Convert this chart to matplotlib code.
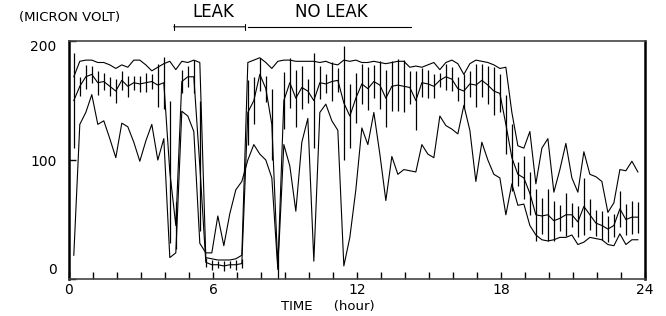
import numpy as np
import matplotlib.pyplot as plt
from matplotlib.transforms import ScaledTranslation

# samples every 15 minutes
hours = np.arange(95) * 0.25 + 0.2

upper = [170, 183, 184, 184, 182, 182, 180, 177, 180, 178, 184, 184, 180, 175, 178, 181, 183, 176, 183, 182,
         184, 182, 18, 17, 16, 16, 16, 17, 20,
         182, 184, 186, 182, 177, 183, 184, 184,
         183, 183, 183, 183, 182, 183, 181, 180, 184, 183, 184, 182, 182, 183, 182, 181, 182, 183, 183,
         178, 179, 178, 180, 182, 176, 182, 184, 181, 172, 181, 184, 183, 182, 180, 177, 178, 140, 112,
         110, 124, 80, 110, 118, 73, 92, 114, 85, 73, 107, 88, 86, 82, 56, 64, 92, 91, 99, 90]

middle = [150, 162, 170, 172, 165, 166, 162, 158, 167, 162, 165, 164, 165, 166, 163, 165, 90, 45, 166, 170,
          170, 95, 14, 12, 12, 11, 12, 12, 13,
          140, 150, 172, 160, 130, 10, 150, 165,
          152, 161, 158, 150, 165, 164, 166, 167, 148, 137, 152, 164, 160, 166, 163, 152, 162, 163, 162,
          161, 150, 165, 164, 162, 167, 170, 168, 160, 158, 164, 163, 167, 163, 158, 156, 130, 102, 88,
          85, 72, 54, 53, 54, 49, 51, 54, 54, 48, 61, 54, 47, 45, 42, 45, 59, 50, 52, 52]

spread = [40, 8, 10, 7, 10, 7, 8, 10, 8, 9, 6, 7, 8, 6, 18, 22, 60, 20, 10, 9,
          14, 55, 4, 4, 3, 4, 3, 4, 4,
          27, 20, 14, 11, 30, 10, 24, 21,
          24, 18, 10, 40, 14, 8, 16, 10, 48, 27, 21, 17, 18, 14, 20, 24, 21, 22, 22,
          14, 25, 12, 12, 10, 6, 11, 10, 10, 14, 11, 18, 14, 16, 20, 16, 25, 28, 10,
          18, 18, 22, 15, 22, 17, 11, 18, 10, 13, 24, 13, 11, 12, 11, 10, 15, 13, 14, 13]

lower = [20, 130, 140, 155, 130, 133, 118, 102, 131, 128, 115, 99, 116, 130, 100, 118, 18, 22, 141, 137,
         124, 30, 22, 22, 53, 28, 55, 75, 82,
         100, 113, 105, 100, 85, 8, 113, 95,
         57, 115, 135, 15, 140, 147, 133, 125, 11, 35, 75, 127, 113, 140, 105, 66, 103, 88, 92,
         91, 90, 113, 105, 102, 137, 129, 126, 122, 146, 125, 82, 115, 100, 88, 85, 54, 80, 62,
         63, 45, 37, 33, 32, 33, 35, 35, 37, 29, 31, 35, 34, 33, 29, 28, 38, 29, 33, 33]

x_major = [0, 6, 12, 18, 24]
y_major = [0, 100, 200]

fig = plt.figure(figsize=(6.66, 3.16), dpi=100)
ax = fig.add_axes([0.1036, 0.117, 0.865, 0.753])

ax.plot(hours, upper, color='black', lw=0.8)
ax.plot(hours, lower, color='black', lw=0.8)
ax.errorbar(hours, middle, yerr=spread, color='black', lw=0.8,
            elinewidth=0.9, capsize=0, clip_on=False)

ax.set_xlim(0, 24)
ax.set_ylim(0, 200)

# frame
for side in ['left', 'right']:
    ax.spines[side].set_linewidth(1.8)
for side in ['top', 'bottom']:
    ax.spines[side].set_linewidth(1.2)
    ax.spines[side].set_color('#444444')

ax.set_xticks(x_major)
ax.set_xticks(range(0, 25), minor=True)
ax.set_yticks(y_major)
ax.tick_params(axis='x', which='both', direction='in', length=5, width=1,
               labelsize=10, pad=3)
ax.tick_params(axis='y', direction='in', length=5, width=1, labelsize=10, pad=9)

# y labels sit a little inside the frame in the original
ticks = ax.yaxis.get_major_ticks()
lab0 = ticks[0].label1
lab0.set_transform(lab0.get_transform() + ScaledTranslation(0, 11 / 100, fig.dpi_scale_trans))
lab2 = ticks[2].label1
lab2.set_transform(lab2.get_transform() + ScaledTranslation(0, -4 / 100, fig.dpi_scale_trans))

ax.set_xlabel('TIME     (hour)', fontsize=9.5)
ax.xaxis.set_label_coords(0.45, -0.09)

# header
fig.text(0.105, 0.946, '(MICRON VOLT)', fontsize=9.5, ha='center', va='center')
fig.text(0.321, 0.962, 'LEAK', fontsize=12, ha='center', va='center')
fig.text(0.497, 0.962, 'NO LEAK', fontsize=12, ha='center', va='center')

ax.annotate('', xy=(4.25, 212), xytext=(7.45, 212),
            arrowprops=dict(arrowstyle='|-|', lw=0.8, mutation_scale=2),
            annotation_clip=False)
ax.plot([7.45, 14.25], [212, 212], color='black', lw=0.8, clip_on=False)

plt.savefig('out.png', dpi=100)
